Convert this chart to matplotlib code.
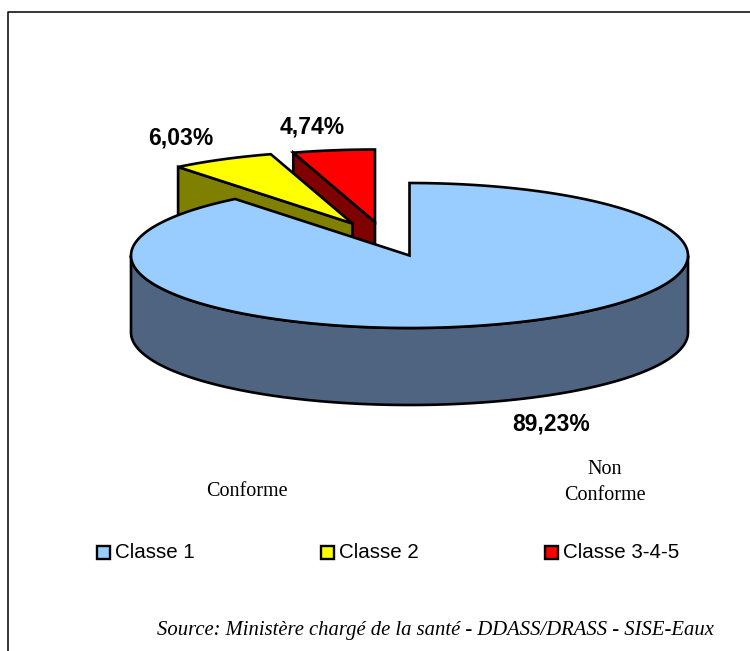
#!/usr/bin/env python3
"""Exploded pseudo-3D pie of water conformity classes."""

import numpy as np
import matplotlib
matplotlib.use('Agg')
import matplotlib.pyplot as plt
from matplotlib.patches import Polygon, Rectangle

# Data
classes = ['Classe 1', 'Classe 2', 'Classe 3-4-5']
shares = [89.23, 6.03, 4.74]
share_labels = ['89,23%', '6,03%', '4,74%']
top_colors = ['#99CCFF', '#FFFF00', '#FF0000']
side_colors = ['#4F6480', '#808000', '#800000']

# Pie geometry, in pixels of the 750x651 picture
RX, RY, DEPTH = 278.5, 72.5, 77
centers = [(409.5, 255.5), (352.5, 223.5), (375, 222)]
label_pos = [(551, 424), (181, 138), (312, 127)]
legend_x = [97, 321, 545]
LEGEND_Y = 552


def rim(cx, cy, start, stop, n=200):
    """Points of the ellipse, angles in degrees clockwise from the top."""
    a = np.radians(np.linspace(start, stop, n))
    return np.column_stack([cx + RX * np.sin(a), cy - RY * np.cos(a)])


def draw_slice(ax, center, start, stop, top, side, z):
    cx, cy = center
    lw = 1.9

    # Straight side running from the centre to the start of the slice
    p = rim(cx, cy, start, start, 2)[0]
    wall = [(cx, cy), tuple(p), (p[0], p[1] + DEPTH), (cx, cy + DEPTH)]
    ax.add_patch(Polygon(wall, closed=True, fc=side, ec='black', lw=lw, zorder=z))

    # Curved outer wall, only the front half is visible
    lo, hi = max(start, 90), min(stop, 270)
    if lo < hi:
        upper = rim(cx, cy, lo, hi)
        lower = upper[::-1] + [0, DEPTH]
        ax.add_patch(Polygon(np.vstack([upper, lower]), closed=True,
                             fc=side, ec='black', lw=lw, zorder=z))

    # Top face
    outline = np.vstack([[(cx, cy)], rim(cx, cy, start, stop)])
    ax.add_patch(Polygon(outline, closed=True, fc=top, ec='black', lw=lw,
                         joinstyle='miter', zorder=z + 0.5))


def main():
    fig = plt.figure(figsize=(7.5, 6.51), dpi=100)
    ax = fig.add_axes([0, 0, 1, 1])
    ax.set_xlim(0, 750)
    ax.set_ylim(651, 0)
    ax.axis('off')

    # Chart frame, open to the right and at the bottom
    ax.plot([7.5, 7.5, 750], [651, 12, 12], color='black', lw=1.1, zorder=1)

    # Slice angles follow the shares, clockwise from 12 o'clock
    edges = np.concatenate([[0], np.cumsum(shares)]) / sum(shares) * 360

    # Back slices first, the big one covers them
    for i, z in [(2, 2), (1, 3), (0, 4)]:
        draw_slice(ax, centers[i], edges[i], edges[i + 1],
                   top_colors[i], side_colors[i], z)

    for text, (x, y) in zip(share_labels, label_pos):
        ax.text(x, y, text, family='Liberation Sans', weight='bold', fontsize=16.5,
                ha='center', va='center', color='black', zorder=6)

    ax.text(247, 491, 'Conforme', family='Liberation Serif', fontsize=14.5,
            ha='center', va='center')
    ax.text(605, 482, 'Non\nConforme', family='Liberation Serif', fontsize=14.5,
            ha='center', va='center', linespacing=1.5)

    # Legend
    for x, name, color in zip(legend_x, classes, top_colors):
        ax.add_patch(Rectangle((x, LEGEND_Y - 6.5), 13, 13, fc=color, ec='black', lw=1.7))
        ax.text(x + 18, LEGEND_Y + 1, name, family='Liberation Sans', fontsize=14.8,
                ha='left', va='center')

    ax.text(157, 631, 'Source: Ministère chargé de la santé - DDASS/DRASS - SISE-Eaux',
            family='Liberation Serif', style='italic', fontsize=14.9,
            ha='left', va='center')

    fig.savefig('out.png', dpi=100)


if __name__ == "__main__":
    main()
